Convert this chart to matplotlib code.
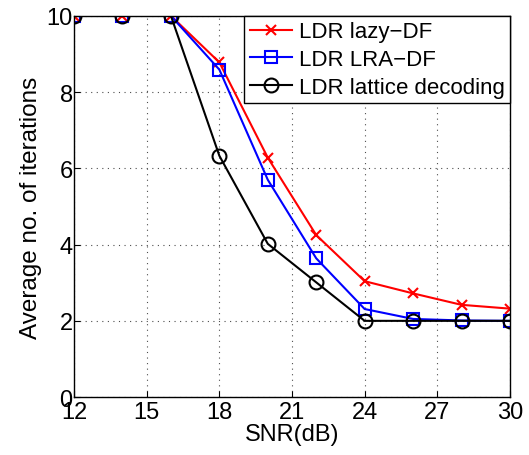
import matplotlib
matplotlib.use("Agg")
from matplotlib import pyplot as plt

snr = [12, 14, 16, 18, 20, 22, 24, 26, 28, 30]
lazy_df = [10, 10, 10, 8.78, 6.28, 4.25, 3.04, 2.72, 2.42, 2.32]
lra_df = [10, 10, 10, 8.59, 5.7, 3.64, 2.31, 2.05, 2.01, 2.0]
lattice = [10, 10, 10, 6.33, 4.02, 3.01, 2.0, 2.0, 2.0, 2.0]
xticks = [12, 15, 18, 21, 24, 27, 30]
yticks = [0, 2, 4, 6, 8, 10]

plt.rcParams['font.family'] = ['Liberation Sans', 'DejaVu Sans']

fig = plt.figure(figsize=(5.29, 4.56), dpi=100)
ax = fig.add_axes([0.140, 0.127, 0.824, 0.836])

ax.plot(snr, lazy_df, color='red', marker='x', markersize=7, mew=1.5, lw=1.5,
        label='LDR lazy\u2212DF')
ax.plot(snr, lra_df, color='blue', marker='s', markersize=8.5, mew=1.5, lw=1.5,
        mfc='none', label='LDR LRA\u2212DF')
ax.plot(snr, lattice, color='black', marker='o', markersize=10, mew=1.5, lw=1.5,
        mfc='none', label='LDR lattice decoding')

ax.set_xlim(12, 30)
ax.set_ylim(0, 10)
ax.set_xticks(xticks)
ax.set_yticks(yticks)
ax.grid(True, linestyle=(0, (1, 4)), color='0.3', linewidth=0.8)
ax.tick_params(labelsize=17, direction='in', length=4)
ax.tick_params(axis='x', pad=3)
ax.tick_params(axis='y', pad=1)
for s in ax.spines.values():
    s.set_linewidth(1.0)
ax.set_xlabel('SNR(dB)', fontsize=17, labelpad=0)
ax.set_ylabel('Average no. of iterations', fontsize=17.5, labelpad=3)

leg = ax.legend(loc='upper right', fontsize=16, fancybox=False, framealpha=1,
                edgecolor='black', borderaxespad=0, handlelength=1.9,
                handletextpad=0.3, borderpad=0.25, labelspacing=0.3)
leg.get_frame().set_linewidth(1.0)

plt.savefig("out.png", dpi=100)
